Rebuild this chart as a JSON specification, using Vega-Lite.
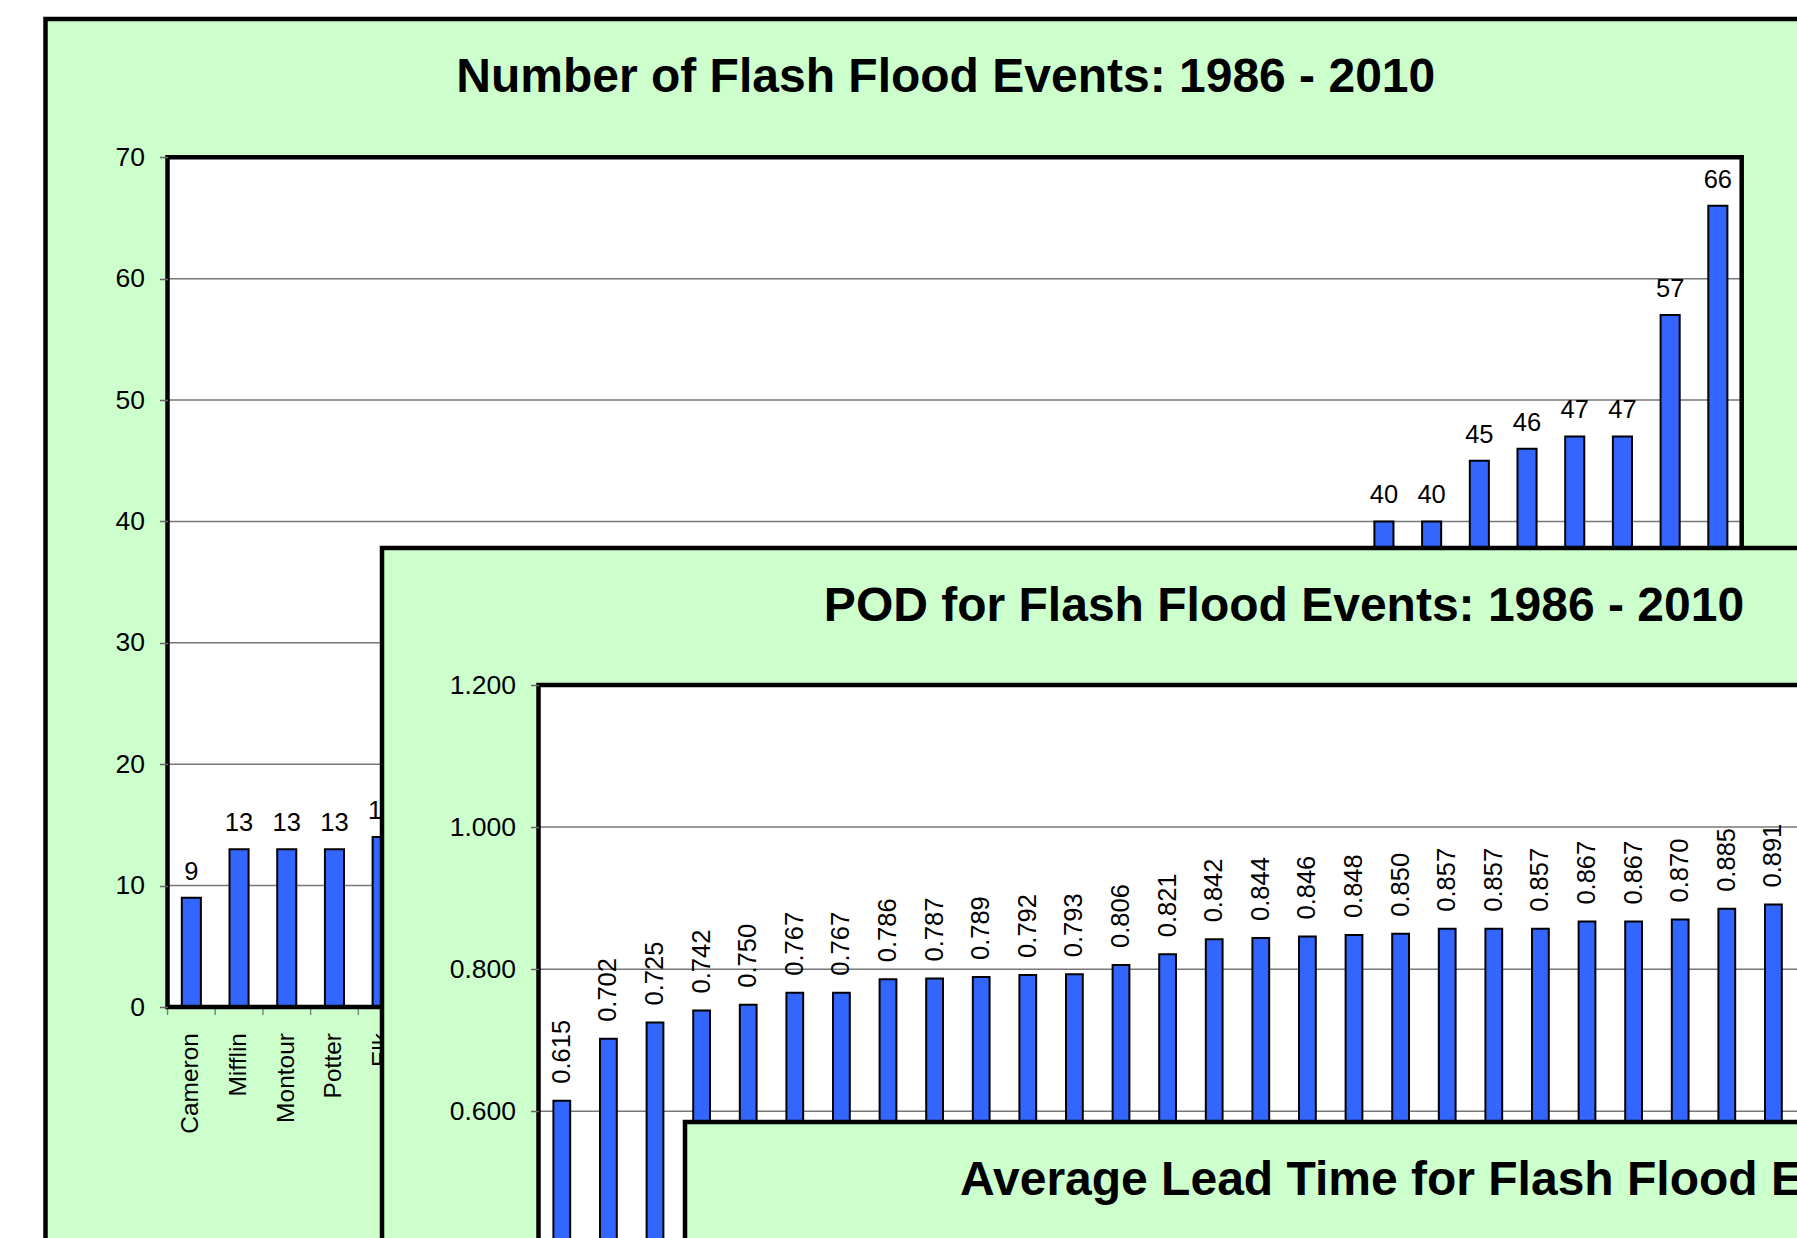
{
  "$schema": "https://vega.github.io/schema/vega-lite/v6.json",
  "width": 1797,
  "height": 1238,
  "autosize": "none",
  "padding": 0,
  "background": "#FFFFFF",
  "config": {"view": {"stroke": null}},
  "datasets": {
    "p1": [
      {"county": "Cameron", "events": 9},
      {"county": "Mifflin", "events": 13},
      {"county": "Montour", "events": 13},
      {"county": "Potter", "events": 13},
      {"county": "Elk", "events": 14},
      {"county": "Union", "events": 15},
      {"county": "Snyder", "events": 16},
      {"county": "Sullivan", "events": 16},
      {"county": "Juniata", "events": 18},
      {"county": "Fulton", "events": 19},
      {"county": "Perry", "events": 20},
      {"county": "Northumberland", "events": 21},
      {"county": "Clinton", "events": 21},
      {"county": "Tioga", "events": 23},
      {"county": "Adams", "events": 24},
      {"county": "Lebanon", "events": 25},
      {"county": "McKean", "events": 26},
      {"county": "Warren", "events": 27},
      {"county": "Jefferson", "events": 27},
      {"county": "Huntingdon", "events": 29},
      {"county": "Bedford", "events": 30},
      {"county": "Blair", "events": 31},
      {"county": "Clearfield", "events": 32},
      {"county": "Indiana", "events": 33},
      {"county": "Franklin", "events": 34},
      {"county": "Cumberland", "events": 40},
      {"county": "Lycoming", "events": 40},
      {"county": "Centre", "events": 45},
      {"county": "Dauphin", "events": 46},
      {"county": "Cambria", "events": 47},
      {"county": "Somerset", "events": 47},
      {"county": "Lancaster", "events": 57},
      {"county": "York", "events": 66}
    ],
    "p2": [
      {"county": "Potter", "pod": 0.615},
      {"county": "Cameron", "pod": 0.702},
      {"county": "Sullivan", "pod": 0.725},
      {"county": "Fulton", "pod": 0.742},
      {"county": "Montour", "pod": 0.750},
      {"county": "Elk", "pod": 0.767},
      {"county": "Juniata", "pod": 0.767},
      {"county": "Snyder", "pod": 0.786},
      {"county": "Union", "pod": 0.787},
      {"county": "Mifflin", "pod": 0.789},
      {"county": "Tioga", "pod": 0.792},
      {"county": "Clinton", "pod": 0.793},
      {"county": "Perry", "pod": 0.806},
      {"county": "McKean", "pod": 0.821},
      {"county": "Warren", "pod": 0.842},
      {"county": "Northumberland", "pod": 0.844},
      {"county": "Adams", "pod": 0.846},
      {"county": "Jefferson", "pod": 0.848},
      {"county": "Huntingdon", "pod": 0.850},
      {"county": "Bedford", "pod": 0.857},
      {"county": "Lebanon", "pod": 0.857},
      {"county": "Clearfield", "pod": 0.857},
      {"county": "Blair", "pod": 0.867},
      {"county": "Indiana", "pod": 0.867},
      {"county": "Franklin", "pod": 0.870},
      {"county": "Cumberland", "pod": 0.885},
      {"county": "Lycoming", "pod": 0.891},
      {"county": "Centre", "pod": 0.900},
      {"county": "Dauphin", "pod": 0.907},
      {"county": "Cambria", "pod": 0.923},
      {"county": "Somerset", "pod": 0.933},
      {"county": "Lancaster", "pod": 0.947},
      {"county": "York", "pod": 0.960}
    ],
    "one": [{}],
    "g1": [{"g": 10}, {"g": 20}, {"g": 30}, {"g": 40}, {"g": 50}, {"g": 60}],
    "g2": [{"g": 0.2}, {"g": 0.4}, {"g": 0.6}, {"g": 0.8}, {"g": 1.0}]
  },
  "resolve": {
    "scale": {"x": "independent", "y": "independent"},
    "axis": {"x": "independent", "y": "independent"}
  },
  "layer": [
    {
      "data": {"name": "one"},
      "mark": {"type": "rect", "fill": "#CCFFCC", "stroke": "#000000", "strokeWidth": 4.5},
      "encoding": {
        "x": {"datum": 0, "type": "quantitative", "scale": {"domain": [0, 1], "range": [45.5, 1846], "nice": false, "zero": false}, "axis": null},
        "x2": {"datum": 1},
        "y": {"datum": 0, "type": "quantitative", "scale": {"domain": [0, 1], "range": [19, 1400], "nice": false, "zero": false}, "axis": null},
        "y2": {"datum": 1}
      }
    },
    {
      "data": {"name": "one"},
      "mark": {"type": "rect", "fill": "#FFFFFF"},
      "encoding": {
        "x": {"datum": 0, "type": "quantitative", "scale": {"domain": [0, 1], "range": [167.5, 1741.7], "nice": false, "zero": false}, "axis": null},
        "x2": {"datum": 1},
        "y": {"datum": 0, "type": "quantitative", "scale": {"domain": [0, 1], "range": [157.3, 1007], "nice": false, "zero": false}, "axis": null},
        "y2": {"datum": 1}
      }
    },
    {
      "data": {"name": "g1"},
      "mark": {"type": "rule", "stroke": "#777777", "strokeWidth": 1.5},
      "encoding": {
        "x": {"datum": 0, "type": "quantitative", "scale": {"domain": [0, 1], "range": [167.5, 1741.7], "nice": false, "zero": false}, "axis": null},
        "x2": {"datum": 1},
        "y": {"field": "g", "type": "quantitative", "scale": {"domain": [0, 70], "range": [1007, 157.3], "nice": false}, "axis": null}
      }
    },
    {
      "data": {"name": "p1"},
      "mark": {"type": "tick", "orient": "vertical", "size": 8, "thickness": 1.5, "color": "#555555", "yOffset": 4},
      "encoding": {
        "x": {"field": "county", "type": "nominal", "sort": null, "bandPosition": 0, "scale": {"type": "band", "range": [167.5, 1741.7], "paddingInner": 0, "paddingOuter": 0}, "axis": null},
        "y": {"datum": 0, "type": "quantitative", "scale": {"domain": [0, 70], "range": [1007, 157.3], "nice": false}, "axis": null}
      }
    },
    {
      "data": {"name": "p1"},
      "mark": {"type": "bar", "fill": "#3366FF", "stroke": "#000000", "strokeWidth": 2},
      "encoding": {
        "x": {"field": "county", "type": "nominal", "sort": null, "scale": {"type": "band", "range": [167.5, 1741.7], "paddingInner": 0.6, "paddingOuter": 0.3}, "axis": null},
        "y": {
          "field": "events", "type": "quantitative",
          "scale": {"domain": [0, 70], "range": [1007, 157.3], "nice": false},
          "axis": {"orient": "left", "offset": -167.5, "values": [0, 10, 20, 30, 40, 50, 60, 70], "domain": false, "grid": false, "ticks": true, "tickSize": 8, "tickColor": "#666666", "tickWidth": 1.5, "labelFont": "Liberation Sans", "labelFontSize": 26.5, "labelColor": "#000000", "labelPadding": 15, "labelOverlap": false, "title": null, "zindex": 1}
        }
      }
    },
    {
      "data": {"name": "p1"},
      "mark": {"type": "text", "font": "Liberation Sans", "fontSize": 25.5, "color": "#000000", "align": "center", "baseline": "alphabetic", "dy": -18},
      "encoding": {
        "x": {"field": "county", "type": "nominal", "sort": null, "scale": {"type": "band", "range": [167.5, 1741.7], "paddingInner": 0.6, "paddingOuter": 0.3}, "axis": null},
        "y": {"field": "events", "type": "quantitative", "scale": {"domain": [0, 70], "range": [1007, 157.3], "nice": false}, "axis": null},
        "text": {"field": "events", "type": "quantitative"}
      }
    },
    {
      "data": {"name": "p1"},
      "mark": {"type": "text", "font": "Liberation Sans", "fontSize": 24.5, "color": "#000000", "angle": 270, "align": "right", "baseline": "middle", "dx": -26},
      "encoding": {
        "x": {"field": "county", "type": "nominal", "sort": null, "scale": {"type": "band", "range": [167.5, 1741.7], "paddingInner": 0.6, "paddingOuter": 0.3}, "axis": null},
        "y": {"datum": 0, "type": "quantitative", "scale": {"domain": [0, 70], "range": [1007, 157.3], "nice": false}, "axis": null},
        "text": {"field": "county", "type": "nominal"}
      }
    },
    {
      "data": {"name": "one"},
      "mark": {"type": "rect", "filled": false, "stroke": "#000000", "strokeWidth": 4.5},
      "encoding": {
        "x": {"datum": 0, "type": "quantitative", "scale": {"domain": [0, 1], "range": [167.5, 1741.7], "nice": false, "zero": false}, "axis": null},
        "x2": {"datum": 1},
        "y": {"datum": 0, "type": "quantitative", "scale": {"domain": [0, 1], "range": [157.3, 1007], "nice": false, "zero": false}, "axis": null},
        "y2": {"datum": 1}
      }
    },
    {
      "data": {"name": "one"},
      "mark": {"type": "text", "font": "Liberation Sans", "fontSize": 48, "fontWeight": "bold", "color": "#000000", "align": "center", "baseline": "alphabetic", "dy": 73},
      "encoding": {
        "x": {"datum": 0.5, "type": "quantitative", "scale": {"domain": [0, 1], "range": [45.5, 1846], "nice": false, "zero": false}, "axis": null},
        "y": {"datum": 0, "type": "quantitative", "scale": {"domain": [0, 1], "range": [19, 1400], "nice": false, "zero": false}, "axis": null},
        "text": {"value": "Number of Flash Flood Events: 1986 - 2010"}
      }
    },

    {
      "data": {"name": "one"},
      "mark": {"type": "rect", "fill": "#CCFFCC", "stroke": "#000000", "strokeWidth": 4.5},
      "encoding": {
        "x": {"datum": 0, "type": "quantitative", "scale": {"domain": [0, 1], "range": [382, 2186], "nice": false, "zero": false}, "axis": null},
        "x2": {"datum": 1},
        "y": {"datum": 0, "type": "quantitative", "scale": {"domain": [0, 1], "range": [548, 1740], "nice": false, "zero": false}, "axis": null},
        "y2": {"datum": 1}
      }
    },
    {
      "data": {"name": "one"},
      "mark": {"type": "rect", "fill": "#FFFFFF"},
      "encoding": {
        "x": {"datum": 0, "type": "quantitative", "scale": {"domain": [0, 1], "range": [538.5, 2076.3], "nice": false, "zero": false}, "axis": null},
        "x2": {"datum": 1},
        "y": {"datum": 0, "type": "quantitative", "scale": {"domain": [0, 1], "range": [685, 1537.6], "nice": false, "zero": false}, "axis": null},
        "y2": {"datum": 1}
      }
    },
    {
      "data": {"name": "g2"},
      "mark": {"type": "rule", "stroke": "#777777", "strokeWidth": 1.5},
      "encoding": {
        "x": {"datum": 0, "type": "quantitative", "scale": {"domain": [0, 1], "range": [538.5, 2076.3], "nice": false, "zero": false}, "axis": null},
        "x2": {"datum": 1},
        "y": {"field": "g", "type": "quantitative", "scale": {"domain": [0, 1.2], "range": [1537.6, 685], "nice": false}, "axis": null}
      }
    },
    {
      "data": {"name": "p2"},
      "mark": {"type": "tick", "orient": "vertical", "size": 8, "thickness": 1.5, "color": "#555555", "yOffset": 4},
      "encoding": {
        "x": {"field": "county", "type": "nominal", "sort": null, "bandPosition": 0, "scale": {"type": "band", "range": [538.5, 2076.3], "paddingInner": 0, "paddingOuter": 0}, "axis": null},
        "y": {"datum": 0, "type": "quantitative", "scale": {"domain": [0, 1.2], "range": [1537.6, 685], "nice": false}, "axis": null}
      }
    },
    {
      "data": {"name": "p2"},
      "mark": {"type": "bar", "fill": "#3366FF", "stroke": "#000000", "strokeWidth": 2},
      "encoding": {
        "x": {"field": "county", "type": "nominal", "sort": null, "scale": {"type": "band", "range": [538.5, 2076.3], "paddingInner": 0.64, "paddingOuter": 0.32}, "axis": null},
        "y": {
          "field": "pod", "type": "quantitative",
          "scale": {"domain": [0, 1.2], "range": [1537.6, 685], "nice": false},
          "axis": {"orient": "left", "offset": -538.5, "values": [0, 0.2, 0.4, 0.6, 0.8, 1.0, 1.2], "format": ".3f", "domain": false, "grid": false, "ticks": true, "tickSize": 8, "tickColor": "#666666", "tickWidth": 1.5, "labelFont": "Liberation Sans", "labelFontSize": 26.5, "labelColor": "#000000", "labelPadding": 15, "labelOverlap": false, "title": null, "zindex": 1}
        }
      }
    },
    {
      "data": {"name": "p2"},
      "mark": {"type": "text", "font": "Liberation Sans", "fontSize": 25.5, "color": "#000000", "angle": 270, "align": "left", "baseline": "middle", "dx": 17},
      "encoding": {
        "x": {"field": "county", "type": "nominal", "sort": null, "scale": {"type": "band", "range": [538.5, 2076.3], "paddingInner": 0.64, "paddingOuter": 0.32}, "axis": null},
        "y": {"field": "pod", "type": "quantitative", "scale": {"domain": [0, 1.2], "range": [1537.6, 685], "nice": false}, "axis": null},
        "text": {"field": "pod", "type": "quantitative", "format": ".3f"}
      }
    },
    {
      "data": {"name": "p2"},
      "mark": {"type": "text", "font": "Liberation Sans", "fontSize": 24.5, "color": "#000000", "angle": 270, "align": "right", "baseline": "middle", "dx": -26},
      "encoding": {
        "x": {"field": "county", "type": "nominal", "sort": null, "scale": {"type": "band", "range": [538.5, 2076.3], "paddingInner": 0.64, "paddingOuter": 0.32}, "axis": null},
        "y": {"datum": 0, "type": "quantitative", "scale": {"domain": [0, 1.2], "range": [1537.6, 685], "nice": false}, "axis": null},
        "text": {"field": "county", "type": "nominal"}
      }
    },
    {
      "data": {"name": "one"},
      "mark": {"type": "rect", "filled": false, "stroke": "#000000", "strokeWidth": 4.5},
      "encoding": {
        "x": {"datum": 0, "type": "quantitative", "scale": {"domain": [0, 1], "range": [538.5, 2076.3], "nice": false, "zero": false}, "axis": null},
        "x2": {"datum": 1},
        "y": {"datum": 0, "type": "quantitative", "scale": {"domain": [0, 1], "range": [685, 1537.6], "nice": false, "zero": false}, "axis": null},
        "y2": {"datum": 1}
      }
    },
    {
      "data": {"name": "one"},
      "mark": {"type": "text", "font": "Liberation Sans", "fontSize": 48, "fontWeight": "bold", "color": "#000000", "align": "center", "baseline": "alphabetic", "dy": 73},
      "encoding": {
        "x": {"datum": 0.5, "type": "quantitative", "scale": {"domain": [0, 1], "range": [382, 2186], "nice": false, "zero": false}, "axis": null},
        "y": {"datum": 0, "type": "quantitative", "scale": {"domain": [0, 1], "range": [548, 1740], "nice": false, "zero": false}, "axis": null},
        "text": {"value": "POD for Flash Flood Events: 1986 - 2010"}
      }
    },

    {
      "data": {"name": "one"},
      "mark": {"type": "rect", "fill": "#CCFFCC", "stroke": "#000000", "strokeWidth": 4.5},
      "encoding": {
        "x": {"datum": 0, "type": "quantitative", "scale": {"domain": [0, 1], "range": [685, 2489], "nice": false, "zero": false}, "axis": null},
        "x2": {"datum": 1},
        "y": {"datum": 0, "type": "quantitative", "scale": {"domain": [0, 1], "range": [1122, 2400], "nice": false, "zero": false}, "axis": null},
        "y2": {"datum": 1}
      }
    },
    {
      "data": {"name": "one"},
      "mark": {"type": "text", "font": "Liberation Sans", "fontSize": 48, "fontWeight": "bold", "color": "#000000", "align": "center", "baseline": "alphabetic", "dy": 73},
      "encoding": {
        "x": {"datum": 0.5, "type": "quantitative", "scale": {"domain": [0, 1], "range": [685, 2489], "nice": false, "zero": false}, "axis": null},
        "y": {"datum": 0, "type": "quantitative", "scale": {"domain": [0, 1], "range": [1122, 2400], "nice": false, "zero": false}, "axis": null},
        "text": {"value": "Average Lead Time for Flash Flood Events: 1986 - 2010"}
      }
    }
  ]
}
